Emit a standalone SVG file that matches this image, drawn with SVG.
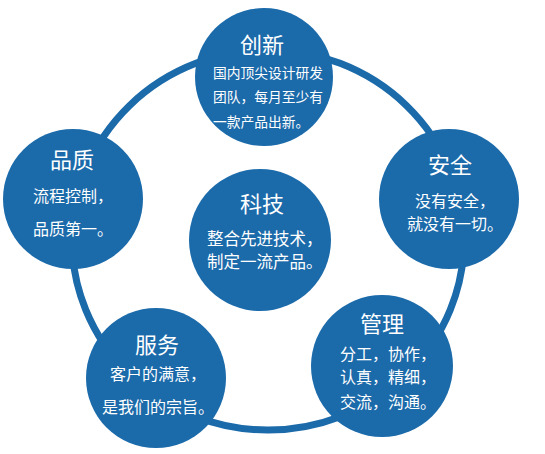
<svg xmlns="http://www.w3.org/2000/svg" width="545" height="454" viewBox="0 0 545 454">
<style>
.node{fill:#1b6aaa;}
.ring{fill:none;stroke:#1b6aaa;stroke-width:7;}
text{fill:#ffffff;font-family:"Noto Sans CJK SC","Noto Sans",sans-serif;}
.t{font-size:22px;text-anchor:middle;}
.b{font-size:16px;}
.s{font-size:13.75px;}
</style>
<rect width="545" height="454" fill="#ffffff"/>
<g id="connectors">
<ellipse class="ring" cx="268" cy="240" rx="196" ry="190"/>
</g>
<g id="chuangxin">
<circle class="node" cx="264" cy="77" r="69"/>
<text class="t" x="262" y="53">创新</text>
<text class="s" x="213" y="78">国内顶尖设计研发</text>
<text class="s" x="213" y="102">团队，每月至少有</text>
<text class="s" x="213" y="127">一款产品出新。</text>
</g>
<g id="pinzhi">
<circle class="node" cx="73" cy="199" r="70"/>
<text class="t" x="72" y="168">品质</text>
<text class="b" x="33" y="202">流程控制，</text>
<text class="b" x="33" y="235">品质第一。</text>
</g>
<g id="anquan">
<circle class="node" cx="449" cy="199" r="70"/>
<text class="t" x="450" y="173">安全</text>
<text class="b" x="415" y="207">没有安全，</text>
<text class="b" x="407" y="230">就没有一切。</text>
</g>
<g id="keji">
<circle class="node" cx="260" cy="240" r="71"/>
<text class="t" x="262" y="212">科技</text>
<text class="b" x="207" y="245" style="font-size:16.5px">整合先进技术，</text>
<text class="b" x="207" y="268" style="font-size:16.5px">制定一流产品。</text>
</g>
<g id="fuwu">
<circle class="node" cx="156" cy="378" r="70"/>
<text class="t" x="157" y="353">服务</text>
<text class="b" x="110" y="380">客户的满意，</text>
<text class="b" x="102" y="413">是我们的宗旨。</text>
</g>
<g id="guanli">
<circle class="node" cx="382" cy="366" r="71"/>
<text class="t" x="382" y="332">管理</text>
<text class="b" x="340" y="360">分工，协作，</text>
<text class="b" x="340" y="383">认真，精细，</text>
<text class="b" x="340" y="408">交流，沟通。</text>
</g>
</svg>
